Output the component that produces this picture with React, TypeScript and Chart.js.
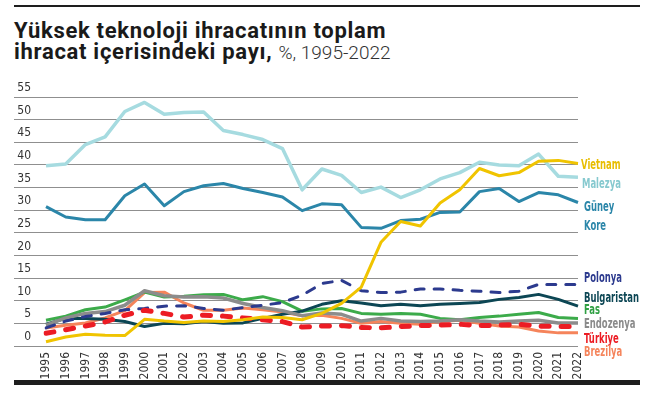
import React, { useEffect, useRef } from 'react';
import { Chart, registerables } from 'chart.js';

Chart.register(...registerables);

const years = [
  '1995', '1996', '1997', '1998', '1999', '2000', '2001', '2002', '2003', '2004',
  '2005', '2006', '2007', '2008', '2009', '2010', '2011', '2012', '2013', '2014',
  '2015', '2016', '2017', '2018', '2019', '2020', '2021', '2022',
];

const vietnam = [0.95, 2.0, 2.6, 2.4, 2.3, 5.9, 5.5, 5.2, 5.5, 5.4, 5.8, 6.4, 6.3, 5.8, 7.2, 9.4, 13.0, 22.9, 27.5, 26.5, 31.6, 34.5, 39.2, 37.6, 38.3, 40.8, 41.0, 40.3];
const malezya = [39.8, 40.2, 44.5, 46.2, 51.8, 53.8, 51.2, 51.6, 51.7, 47.6, 46.7, 45.6, 43.6, 34.5, 39.1, 37.7, 33.9, 35.1, 32.8, 34.5, 36.9, 38.3, 40.6, 40.0, 39.8, 42.4, 37.5, 37.3];
const guneyKore = [30.8, 28.5, 27.9, 27.9, 33.2, 35.8, 31.0, 34.1, 35.4, 35.9, 34.8, 33.9, 32.9, 29.9, 31.4, 31.2, 26.2, 26.0, 27.7, 28.0, 29.5, 29.6, 34.1, 34.8, 31.9, 33.9, 33.4, 31.7];
const polonya = [4.0, 5.5, 6.5, 7.2, 8.0, 8.3, 8.8, 8.9, 8.3, 7.9, 8.5, 9.0, 9.6, 11.2, 13.8, 14.5, 12.2, 11.8, 11.9, 12.6, 12.6, 12.3, 12.1, 11.8, 12.1, 13.6, 13.6, 13.6];
const bulgaristan = [4.8, 6.1, 6.1, 5.9, 5.4, 4.3, 5.0, 4.9, 5.4, 5.0, 5.1, 6.1, 7.0, 7.7, 9.2, 10.0, 9.5, 8.9, 9.2, 8.9, 9.2, 9.4, 9.6, 10.3, 10.7, 11.4, 10.3, 8.8];
const fas = [5.7, 6.6, 8.0, 8.6, 10.2, 11.9, 10.8, 11.0, 11.3, 11.4, 10.2, 10.9, 9.8, 7.7, 8.2, 8.3, 7.2, 7.0, 7.2, 7.0, 6.1, 5.8, 6.3, 6.6, 7.0, 7.4, 6.3, 6.1];
const endozenya = [4.6, 6.2, 7.2, 7.6, 9.0, 12.2, 11.1, 10.8, 10.9, 10.6, 9.4, 8.5, 7.8, 6.7, 7.3, 7.0, 5.5, 6.1, 5.5, 5.4, 5.5, 5.8, 5.5, 5.3, 5.5, 5.7, 5.1, 5.1];
const turkiye = [2.8, 3.6, 4.4, 5.3, 6.8, 7.9, 7.2, 6.4, 6.8, 6.6, 6.2, 5.8, 5.4, 4.2, 4.4, 4.5, 4.1, 4.0, 4.3, 4.5, 4.6, 4.8, 4.5, 4.6, 4.8, 4.4, 4.3, 4.3];
const brezilya = [4.0, 4.6, 5.1, 6.2, 7.8, 11.8, 11.9, 9.5, 7.9, 7.9, 8.4, 8.0, 7.5, 6.7, 6.8, 6.1, 5.0, 5.4, 5.0, 4.8, 5.4, 5.7, 5.0, 4.4, 4.2, 3.3, 2.9, 2.9];

const yTickValues = [0, 55, 5];

const NARROW = '"Liberation Sans Narrow", "Arial Narrow", "DejaVu Sans Condensed", sans-serif';

const COLORS = {
  vietnam: '#f0c400',
  malezya: '#a6dbe0',
  kore: '#2b86a9',
  polonya: '#2c3a8e',
  bulgaristan: '#0c4654',
  fas: '#3cab4a',
  endozenya: '#8c8c8c',
  turkiye: '#ec1c24',
  brezilya: '#f5845b',
};

// End-of-line labels (layout only; text + colour + pixel placement)
const END_LABELS = [
  { text: 'Vietnam', color: '#e8bd00', dx: 3, y: 168.5 },
  { text: 'Malezya', color: '#86c9cf', dx: 4, y: 187.5 },
  { text: 'Güney', color: COLORS.kore, dx: 6, y: 210.5 },
  { text: 'Kore', color: COLORS.kore, dx: 6, y: 229.5 },
  { text: 'Polonya', color: COLORS.polonya, dx: 6, y: 282 },
  { text: 'Bulgaristan', color: COLORS.bulgaristan, dx: 6, y: 301.5 },
  { text: 'Fas', color: '#2fa043', dx: 6, y: 313.5 },
  { text: 'Endozenya', color: '#8a8a8a', dx: 6, y: 328 },
  { text: 'Türkiye', color: COLORS.turkiye, dx: 6, y: 342.5 },
  { text: 'Brezilya', color: COLORS.brezilya, dx: 6, y: 356 },
];

const endLabelPlugin = {
  id: 'endLabels',
  afterDraw(chart: any) {
    const ctx = chart.ctx;
    const right = chart.chartArea.right;
    ctx.save();
    ctx.font = `bold 14.5px ${NARROW}`;
    ctx.textBaseline = 'alphabetic';
    ctx.textAlign = 'left';
    const ref = ctx.measureText('Bulgaristan').width;
    const sx = Math.min(1, 55 / ref);
    for (const l of END_LABELS) {
      ctx.save();
      ctx.translate(right + l.dx, l.y);
      ctx.scale(sx, 1);
      ctx.fillStyle = l.color;
      ctx.fillText(l.text, 0, 0);
      ctx.restore();
    }
    ctx.restore();
  },
};

function line(label: string, data: number[], color: string, extra: any = {}) {
  return {
    label,
    data,
    borderColor: color,
    backgroundColor: color,
    borderWidth: 3,
    pointRadius: 0,
    pointHoverRadius: 0,
    tension: 0,
    fill: false,
    borderJoinStyle: 'round',
    borderCapStyle: 'butt',
    ...extra,
  };
}

export default function App() {
  const ref = useRef<HTMLCanvasElement | null>(null);

  useEffect(() => {
    if (!ref.current) return;
    const chart = new Chart(ref.current, {
      type: 'line',
      data: {
        labels: years,
        datasets: [
          line('Vietnam', vietnam, COLORS.vietnam),
          line('Türkiye', turkiye, COLORS.turkiye, { borderWidth: 5, borderDash: [8, 12], borderCapStyle: 'round' }),
          line('Polonya', polonya, COLORS.polonya, { borderDash: [9, 10], borderCapStyle: 'round' }),
          line('Endozenya', endozenya, COLORS.endozenya, { borderWidth: 3.5 }),
          line('Bulgaristan', bulgaristan, COLORS.bulgaristan),
          line('Fas', fas, COLORS.fas),
          line('Brezilya', brezilya, COLORS.brezilya),
          line('Güney Kore', guneyKore, COLORS.kore),
          line('Malezya', malezya, COLORS.malezya, { borderWidth: 3.5 }),
        ],
      },
      options: {
        animation: false,
        responsive: false,
        devicePixelRatio: 1,
        events: [],
        layout: { padding: { left: 14, right: 71, top: 97, bottom: 0 } },
        plugins: {
          legend: { display: false },
          tooltip: { enabled: false },
          title: { display: false },
        },
        scales: {
          x: {
            type: 'category',
            offset: false,
            grid: { display: false, drawTicks: false },
            border: { display: false },
            ticks: {
              autoSkip: false,
              maxRotation: 90,
              minRotation: 90,
              padding: 6,
              color: '#333333',
              font: { family: NARROW, size: 12 },
            },
            afterFit(scale: any) {
              scale.height = 48;
            },
          },
          y: {
            min: yTickValues[0],
            max: yTickValues[1],
            border: { display: false },
            grid: { color: '#8f8f8f', lineWidth: 1, drawTicks: true, tickLength: 32, tickColor: '#8f8f8f' },
            ticks: {
              stepSize: yTickValues[2],
              padding: -17,
              labelOffset: -9,
              crossAlign: 'near',
              color: '#333333',
              font: { family: NARROW, size: 12 },
            },
            afterFit(scale: any) {
              scale.width = 32;
            },
          },
        },
      } as any,
      plugins: [endLabelPlugin],
    });
    return () => chart.destroy();
  }, []);

  return (
    <div style={{ position: 'fixed', left: 0, top: 0, width: 649, height: 394, background: '#ffffff', overflow: 'hidden' }}>
      <div style={{ position: 'absolute', left: 14, top: 5, width: 626, height: 2, background: '#1e1e1e' }} />
      <div
        style={{
          position: 'absolute',
          left: 14,
          top: 20,
          fontFamily: 'Roboto, "Liberation Sans", sans-serif',
          fontWeight: 700,
          fontSize: 22,
          lineHeight: '21px',
          letterSpacing: '0.7px',
          color: '#1a1a1a',
          whiteSpace: 'nowrap',
        }}
      >
        <div>Yüksek teknoloji ihracatının toplam</div>
        <div>
          ihracat içerisindeki payı,{' '}
          <span style={{ fontWeight: 300, fontSize: 19, letterSpacing: '0px', color: '#333333' }}>%, 1995-2022</span>
        </div>
      </div>
      <canvas ref={ref} width={649} height={394} style={{ position: 'absolute', left: 0, top: 0, width: 649, height: 394 }} />
      <div style={{ position: 'absolute', left: 14, top: 380, width: 626, height: 5, background: '#1e1e1e' }} />
    </div>
  );
}
